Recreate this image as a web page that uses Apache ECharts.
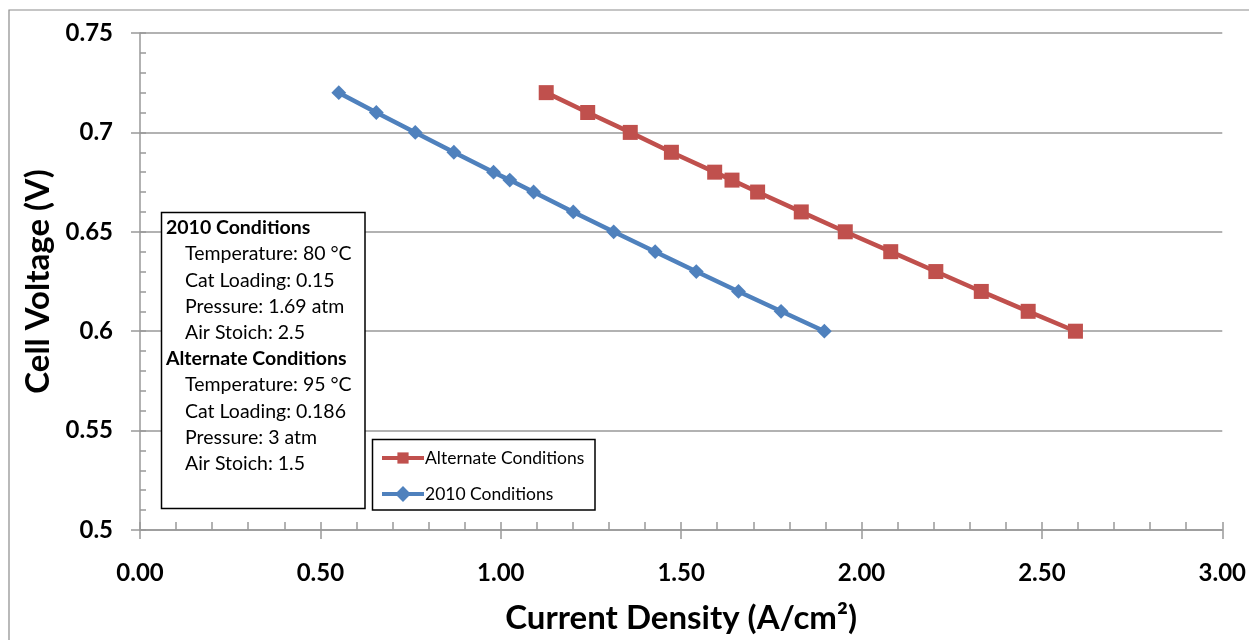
<!DOCTYPE html>
<html><head><meta charset="utf-8">
<script src="https://cdn.jsdelivr.net/npm/echarts@6/dist/echarts.min.js"></script>
<style>html,body{margin:0;padding:0;background:#fff}#c{width:1249px;height:640px}</style>
</head><body><div id="c"></div>
<script>
// Data
const seriesNames = ['Alternate Conditions', '2010 Conditions'];
const altX = [1.126, 1.241, 1.359, 1.473, 1.593, 1.641, 1.712, 1.833, 1.955, 2.081, 2.206, 2.332, 2.462, 2.593];
const altY = [0.72, 0.71, 0.70, 0.69, 0.68, 0.676, 0.67, 0.66, 0.65, 0.64, 0.63, 0.62, 0.61, 0.60];
const c2010X = [0.551, 0.655, 0.763, 0.870, 0.980, 1.025, 1.091, 1.201, 1.313, 1.428, 1.542, 1.659, 1.777, 1.897];
const c2010Y = [0.72, 0.71, 0.70, 0.69, 0.68, 0.676, 0.67, 0.66, 0.65, 0.64, 0.63, 0.62, 0.61, 0.60];
const xTickLabels = ['0.00', '0.50', '1.00', '1.50', '2.00', '2.50', '3.00'];
const yTickLabels = ['0.5', '0.55', '0.6', '0.65', '0.7', '0.75'];
const boxTitle2010 = '2010 Conditions';
const notes2010 = ['Temperature: 80 °C', 'Cat Loading: 0.15', 'Pressure: 1.69 atm', 'Air Stoich: 2.5'];
const boxTitleAlt = 'Alternate Conditions';
const notesAlt = ['Temperature: 95 °C', 'Cat Loading: 0.186', 'Pressure: 3 atm', 'Air Stoich: 1.5'];

const FONT = 'Lato';
const GRAY = '#999999';
const zip = (xs, ys) => xs.map((x, i) => [x, ys[i]]);

// annotation box texts
const boxLines = [];
[[boxTitle2010, notes2010], [boxTitleAlt, notesAlt]].forEach(([t, notes]) => {
  boxLines.push({ text: t, bold: true });
  notes.forEach(n => boxLines.push({ text: n, bold: false }));
});
const boxGraphics = boxLines.map((l, i) => ({
  type: 'text',
  x: l.bold ? 166 : 185,
  y: 228 + i * 26.2,
  style: {
    text: l.text,
    fill: '#000',
    font: (l.bold ? 'bold ' : '') + '19.5px ' + FONT,
    verticalAlign: 'middle'
  },
  z: 101
}));

const chart = echarts.init(document.getElementById('c'), null, { renderer: 'canvas' });
chart.setOption({
  animation: false,
  backgroundColor: '#fff',
  grid: { left: 140, right: 19.7, top: 33, bottom: 109.3, containLabel: false },
  xAxis: [{
    type: 'value', min: 0, max: 3, interval: 0.5, position: 'bottom',
    name: 'Current Density (A/cm²)', nameLocation: 'middle', nameGap: 72,
    nameTextStyle: { fontFamily: FONT, fontWeight: 'bold', fontSize: 33, color: '#000' },
    axisLine: { show: true, lineStyle: { color: GRAY, width: 1.5 } },
    axisTick: { show: true, inside: false, length: 9, lineStyle: { color: GRAY, width: 1.5 } },
    axisLabel: { margin: 31, fontFamily: FONT, fontWeight: 'bold', fontSize: 24, color: '#000',
      formatter: v => xTickLabels[Math.round(v / 0.5)] },
    splitLine: { show: false }
  }, {
    type: 'value', min: 0, max: 3, interval: 0.1, position: 'bottom',
    axisLine: { show: false },
    axisTick: { show: true, inside: true, length: 8, lineStyle: { color: GRAY, width: 1.5 } },
    axisLabel: { show: false }, splitLine: { show: false }
  }],
  yAxis: [{
    type: 'value', min: 0.5, max: 0.75, interval: 0.05, position: 'left',
    name: 'Cell Voltage (V)', nameLocation: 'middle', nameGap: 83,
    nameTextStyle: { fontFamily: FONT, fontWeight: 'bold', fontSize: 33, color: '#000' },
    axisLine: { show: true, lineStyle: { color: GRAY, width: 1.5 } },
    axisTick: { show: true, inside: false, length: 9, lineStyle: { color: GRAY, width: 1.5 } },
    axisLabel: { margin: 27, fontFamily: FONT, fontWeight: 'bold', fontSize: 24, color: '#000',
      formatter: v => yTickLabels[Math.round((v - 0.5) / 0.05)] },
    splitLine: { show: true, lineStyle: { color: GRAY, width: 1.5 } }
  }, {
    type: 'value', min: 0.5, max: 0.75, interval: 0.01, position: 'left',
    axisLine: { show: false },
    axisTick: { show: true, inside: true, length: 6, lineStyle: { color: GRAY, width: 1.5 } },
    axisLabel: { show: false }, splitLine: { show: false }
  }],
  legend: {
    data: seriesNames, orient: 'vertical', left: 380, top: 449, z: 120,
    itemWidth: 42, itemHeight: 14, itemGap: 18, padding: 0,
    lineStyle: { width: 4 },
    textStyle: { fontFamily: FONT, fontSize: 17.5, color: '#000', padding: [0, 0, 0, -4] }
  },
  series: [{
    name: seriesNames[0], type: 'line', data: zip(altX, altY),
    symbol: 'rect', symbolSize: 15,
    lineStyle: { color: '#C0504D', width: 4.5 },
    itemStyle: { color: '#C0504D' }, z: 3
  }, {
    name: seriesNames[1], type: 'line', data: zip(c2010X, c2010Y),
    symbol: 'rect', symbolSize: 10.5, symbolRotate: 45,
    lineStyle: { color: '#4F81BD', width: 4.5 },
    itemStyle: { color: '#4F81BD' }, z: 3
  }],
  graphic: [
    { type: 'rect', shape: { x: 9, y: 10, width: 1400, height: 800 },
      style: { fill: 'none', stroke: '#8c8c8c', lineWidth: 1.2 }, z: -1, silent: true },
    { type: 'rect', shape: { x: 161.5, y: 212.5, width: 203.5, height: 296 },
      style: { fill: '#fff', stroke: '#000', lineWidth: 1.5 }, z: 100 },
    { type: 'rect', shape: { x: 372.5, y: 439.5, width: 222.5, height: 70.5 },
      style: { fill: '#fff', stroke: '#000', lineWidth: 1.5 }, z: 99 }
  ].concat(boxGraphics)
});
</script>
</body></html>
